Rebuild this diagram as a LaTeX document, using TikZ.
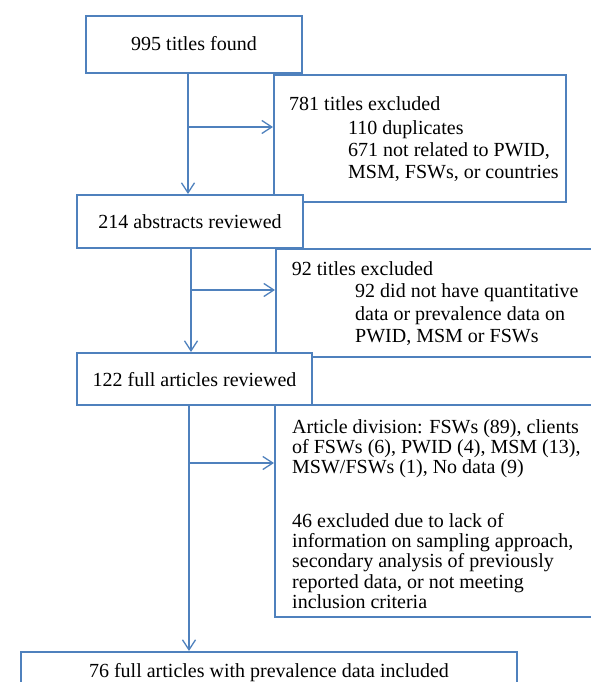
\documentclass[tikz,border=0pt]{standalone}
\usepackage{fontspec}
\setmainfont{Liberation Serif}
\usetikzlibrary{arrows.meta}
\definecolor{boxblue}{RGB}{79,129,189}
\begin{document}
\begin{tikzpicture}[x=1pt,y=-1pt,
  box/.style={draw=boxblue,fill=white,line width=2pt,inner sep=0pt},
  txt/.style={font=\fontsize{20}{24}\selectfont,inner sep=0pt,anchor=base west},
  ctxt/.style={font=\fontsize{20}{24}\selectfont,inner sep=0pt,anchor=base},
  conn/.style={draw=boxblue,line width=1.3pt,-{Straight Barb[length=10pt,width=13pt,line width=1.3pt]}}]
\useasboundingbox (0,0) rectangle (591,682);
\clip (0,0) rectangle (591,682);

% boxes (drawing order gives the overlaps of the reference)
\node[box,minimum width=292pt,minimum height=127pt] (b781) at (420,138.5) {};
\node[box,minimum width=216pt,minimum height=57pt] (b1) at (194,44.5) {};
\node[box,minimum width=364pt,minimum height=108pt] (b92) at (458,303) {};
\node[box,minimum width=226pt,minimum height=53pt] (b214) at (190,221.5) {};
\node[box,minimum width=365pt,minimum height=212pt] (bart) at (457.5,511) {};
\node[box,minimum width=235pt,minimum height=52pt] (b122) at (194.5,379) {};
\node[box,minimum width=496pt,minimum height=68pt] (bend) at (269,686) {};

% texts
\node[ctxt] (t1) at (194,51) {995 titles found};
\node[ctxt] (t214) at (190,228) {214 abstracts reviewed};
\node[ctxt] (t122) at (194.5,386) {122 full articles reviewed};
\node[ctxt] (tend) at (269,677) {76 full articles with prevalence data included};

\node[txt] (t781a) at (289,110.7) {781 titles excluded};
\node[txt] (t781b) at (348,134) {110 duplicates};
\node[txt] (t781c) at (348,156) {671 not related to PWID,};
\node[txt] (t781d) at (348,178) {MSM, FSWs, or countries};

\node[txt] (t92a) at (291.7,275) {92 titles excluded};
\node[txt] (t92b) at (355,297) {92 did not have quantitative};
\node[txt] (t92c) at (355,320) {data or prevalence data on};
\node[txt] (t92d) at (355,342) {PWID, MSM or FSWs};

\node[txt] (ta1) at (292,433) {Article division: FSWs (89), clients};
\node[txt] (ta2) at (292,453) {of FSWs (6), PWID (4), MSM (13),};
\node[txt] (ta3) at (292,473) {MSW/FSWs (1), No data (9)};
\node[txt] (ta4) at (292,527) {46 excluded due to lack of};
\node[txt] (ta5) at (292,547) {information on sampling approach,};
\node[txt] (ta6) at (292,567) {secondary analysis of previously};
\node[txt] (ta7) at (292,588) {reported data, or not meeting};
\node[txt] (ta8) at (292,608) {inclusion criteria};

% connectors
\coordinate (j1) at (188,127);
\coordinate (j2) at (191,290);
\coordinate (j3) at (189,463);
\draw[conn] (j1 |- b1.south) -- (j1 |- b214.north);
\draw[conn] (j1) -- (j1 -| b781.west);
\draw[conn] (j2 |- b214.south) -- (j2 |- b122.north);
\draw[conn] (j2) -- (j2 -| b92.west);
\draw[conn] (j3 |- b122.south) -- (j3 |- bend.north);
\draw[conn] (j3) -- (j3 -| bart.west);
\end{tikzpicture}
\end{document}
